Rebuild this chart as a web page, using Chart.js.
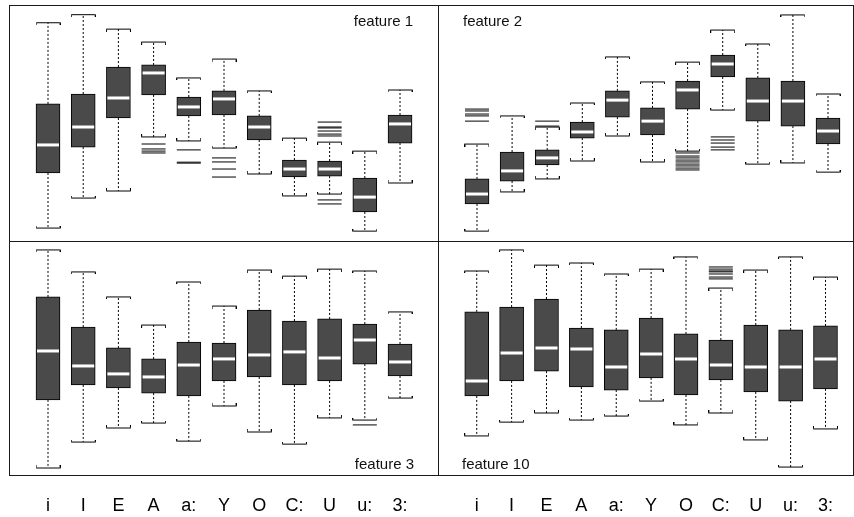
<!DOCTYPE html>
<html>
<head>
<meta charset="utf-8">
<script src="https://cdn.jsdelivr.net/npm/chart.js@4"></script>
<style>
  html, body { margin: 0; padding: 0; background: #fff; }
  body { width: 854px; height: 517px; position: relative; overflow: hidden; font-family: "Liberation Sans", Arial, sans-serif; }
  .panel { position: absolute; }
  .rule { position: absolute; background: #1a1a1a; z-index: 2; }
  .tag { position: absolute; font-size: 15px; line-height: 15px; color: #111; z-index: 3; white-space: nowrap; }
</style>
</head>
<body>
<div class="panel" style="left:9px;top:5px;width:429px;height:236px"><canvas id="f1"></canvas></div>
<div class="panel" style="left:438px;top:5px;width:415px;height:236px"><canvas id="f2"></canvas></div>
<div class="panel" style="left:9px;top:241px;width:429px;height:276px"><canvas id="f3"></canvas></div>
<div class="panel" style="left:438px;top:241px;width:415px;height:276px"><canvas id="f4"></canvas></div>

<div class="rule" style="left:9px;top:5px;width:845px;height:1px"></div>
<div class="rule" style="left:9px;top:475px;width:845px;height:1px"></div>
<div class="rule" style="left:9px;top:241px;width:845px;height:1px"></div>
<div class="rule" style="left:9px;top:5px;width:1px;height:471px"></div>
<div class="rule" style="left:438px;top:5px;width:1px;height:471px"></div>
<div class="rule" style="left:853px;top:5px;width:1px;height:471px"></div>

<div class="tag" style="right:441px;top:13px">feature 1</div>
<div class="tag" style="left:463px;top:13px">feature 2</div>
<div class="tag" style="right:440px;top:456px">feature 3</div>
<div class="tag" style="left:462px;top:456px">feature 10</div>

<script>
const categories = ['i', 'I', 'E', 'A', 'a:', 'Y', 'O', 'C:', 'U', 'u:', '3:'];

// feature 1
const f1Hi  = [92.5, 95.9, 89.8, 84.3, 69.1, 77.1, 63.6, 43.6, 41.9, 38.1, 64.0];
const f1Q3  = [58.1, 62.3, 73.7, 74.6, 61.0, 63.6, 53.0, 34.3, 33.9, 26.7, 53.4];
const f1Med = [40.7, 48.3, 60.6, 71.2, 56.8, 60.2, 48.3, 30.5, 30.5, 18.6, 49.6];
const f1Q1  = [28.8, 39.8, 52.1, 61.9, 53.0, 53.4, 42.8, 27.1, 27.5, 12.3, 41.5];
const f1Lo  = [5.5, 18.2, 21.2, 44.1, 42.4, 39.4, 28.4, 19.1, 19.9, 4.2, 24.6];
const f1Out = [[], [], [], [41.1, 39.0, 38.1, 37.3], [38.6, 33.4, 33.0], [35.2, 33.5, 30.5, 27.1],
               [], [], [50.4, 48.3, 47.9, 46.6, 45.3, 44.5, 17.4, 15.7], [], []];

// feature 2
const f2Hi  = [41.1, 53.0, 48.3, 58.5, 78.0, 67.4, 75.8, 89.4, 83.5, 95.8, 62.3];
const f2Q3  = [26.3, 37.7, 38.6, 50.4, 63.6, 56.4, 67.8, 78.8, 69.1, 67.8, 52.1];
const f2Med = [19.9, 29.7, 35.2, 46.2, 59.7, 50.8, 64.0, 75.0, 59.3, 59.3, 46.6];
const f2Q1  = [15.7, 25.4, 32.2, 43.6, 52.5, 44.9, 55.9, 69.5, 50.8, 48.7, 41.1];
const f2Lo  = [4.2, 20.8, 26.3, 33.9, 44.5, 33.5, 38.1, 55.5, 32.6, 33.1, 29.2];
const f2Out = [[55.9, 55.1, 53.8, 53.0, 50.8], [], [50.8, 48.7], [], [], [],
               [37.3, 36.0, 35.2, 34.3, 33.5, 32.6, 31.8, 30.9, 30.1],
               [44.1, 42.8, 41.5, 39.8, 38.6], [], [], []];

// feature 3
const f3Hi  = [96.2, 86.8, 76.1, 64.1, 82.5, 72.2, 87.6, 85.0, 88.0, 87.2, 69.7];
const f3Q3  = [76.1, 63.2, 54.3, 49.6, 56.8, 56.4, 70.5, 65.8, 66.7, 64.5, 56.0];
const f3Med = [53.0, 46.6, 43.2, 41.9, 47.0, 49.6, 51.3, 52.6, 50.0, 57.7, 48.3];
const f3Q1  = [32.1, 38.5, 37.2, 35.0, 33.8, 40.2, 41.9, 38.5, 40.2, 47.4, 42.3];
const f3Lo  = [3.0, 14.1, 20.1, 22.2, 14.5, 29.5, 18.4, 13.2, 24.4, 23.5, 32.9];
const f3Out = [[], [], [], [], [], [], [], [], [], [21.4], []];

// feature 10
const f4Hi  = [87.2, 96.2, 89.7, 90.6, 85.9, 88.0, 93.2, 79.9, 87.6, 93.2, 84.6];
const f4Q3  = [69.7, 71.8, 75.2, 62.8, 62.0, 67.1, 60.3, 57.7, 64.1, 62.0, 63.7];
const f4Med = [40.2, 52.1, 54.3, 53.8, 46.2, 51.7, 49.6, 47.0, 46.2, 46.2, 49.6];
const f4Q1  = [33.8, 40.2, 44.4, 37.6, 36.3, 41.5, 34.2, 40.6, 35.5, 31.6, 36.8];
const f4Lo  = [16.7, 22.6, 26.5, 23.5, 25.2, 31.6, 21.4, 26.5, 15.0, 3.4, 19.7];
const f4Out = [[], [], [], [], [], [], [], [88.9, 88.0, 87.2, 86.8, 85.9, 84.6, 83.8], [], [], []];

/* cap glyphs: a bar with short end ticks pointing at the box */
function capImage(down) {
  const c = document.createElement('canvas');
  c.width = 25; c.height = 5;
  const g = c.getContext('2d');
  g.strokeStyle = '#000';
  g.lineWidth = 1;
  g.beginPath();
  g.moveTo(0.5, 2.5); g.lineTo(24.5, 2.5);
  if (down) {
    g.moveTo(0.5, 2.5); g.lineTo(0.5, 5);
    g.moveTo(24.5, 2.5); g.lineTo(24.5, 5);
  } else {
    g.moveTo(0.5, 0); g.lineTo(0.5, 2.5);
    g.moveTo(24.5, 0); g.lineTo(24.5, 2.5);
  }
  g.stroke();
  return c;
}
const capTop = capImage(true);
const capBottom = capImage(false);

function makePanel(id, lo, q1, med, q3, hi, out, xMin, xMax, withLabels) {
  const whiskers = [];
  categories.forEach((_, i) => {
    whiskers.push({ x: i, y: q3[i] }, { x: i, y: hi[i] }, { x: i, y: null });
    whiskers.push({ x: i, y: q1[i] }, { x: i, y: lo[i] }, { x: i, y: null });
  });
  const outliers = [];
  out.forEach((list, i) => list.forEach(v => outliers.push({ x: i, y: v })));

  new Chart(document.getElementById(id), {
    type: 'bar',
    data: {
      datasets: [
        {
          type: 'line',
          data: whiskers,
          borderColor: '#000',
          borderWidth: 1,
          borderDash: [2, 2],
          pointRadius: 0,
          spanGaps: false,
          order: 4
        },
        {
          type: 'line',
          data: hi.map((v, i) => ({ x: i, y: v })),
          showLine: false,
          pointStyle: capTop,
          pointRadius: 3,
          order: 3
        },
        {
          type: 'line',
          data: lo.map((v, i) => ({ x: i, y: v })),
          showLine: false,
          pointStyle: capBottom,
          pointRadius: 3,
          order: 3
        },
        {
          type: 'line',
          data: outliers,
          showLine: false,
          pointStyle: 'line',
          pointRadius: 12,
          pointBorderWidth: 1,
          pointBorderColor: '#000',
          order: 3
        },
        {
          data: q1.map((v, i) => ({ x: i, y: [v, q3[i]] })),
          backgroundColor: '#4a4a4a',
          borderColor: '#000',
          borderWidth: 1,
          borderSkipped: false,
          barThickness: 24,
          order: 1
        },
        {
          type: 'line',
          data: med.map((v, i) => ({ x: i, y: v })),
          showLine: false,
          pointStyle: 'line',
          pointRadius: 11,
          pointBorderWidth: 3,
          pointBorderColor: '#fff',
          order: 0
        }
      ]
    },
    options: {
      responsive: true,
      maintainAspectRatio: false,
      animation: false,
      events: [],
      layout: { padding: 0, autoPadding: false },
      plugins: {
        legend: { display: false },
        tooltip: { enabled: false }
      },
      scales: {
        x: {
          type: 'linear',
          min: xMin,
          max: xMax,
          offset: false,
          display: withLabels,
          grid: { display: false, drawTicks: false },
          border: { display: false },
          afterBuildTicks: s => { s.ticks = categories.map((_, i) => ({ value: i })); },
          afterFit: s => { if (withLabels) s.height = 42; },
          ticks: {
            autoSkip: false,
            maxRotation: 0,
            padding: 20,
            color: '#000',
            font: { family: 'Liberation Sans', size: 18 },
            callback: v => categories[v]
          }
        },
        y: {
          min: 0,
          max: 100,
          display: false
        }
      }
    }
  });
}

makePanel('f1', f1Lo, f1Q1, f1Med, f1Q3, f1Hi, f1Out, -1.108, 11.079, false);
makePanel('f2', f2Lo, f2Q1, f2Med, f2Q3, f2Hi, f2Out, -1.111, 10.712, false);
makePanel('f3', f3Lo, f3Q1, f3Med, f3Q3, f3Hi, f3Out, -1.108, 11.079, true);
makePanel('f4', f4Lo, f4Q1, f4Med, f4Q3, f4Hi, f4Out, -1.111, 10.712, true);
</script>
</body>
</html>
